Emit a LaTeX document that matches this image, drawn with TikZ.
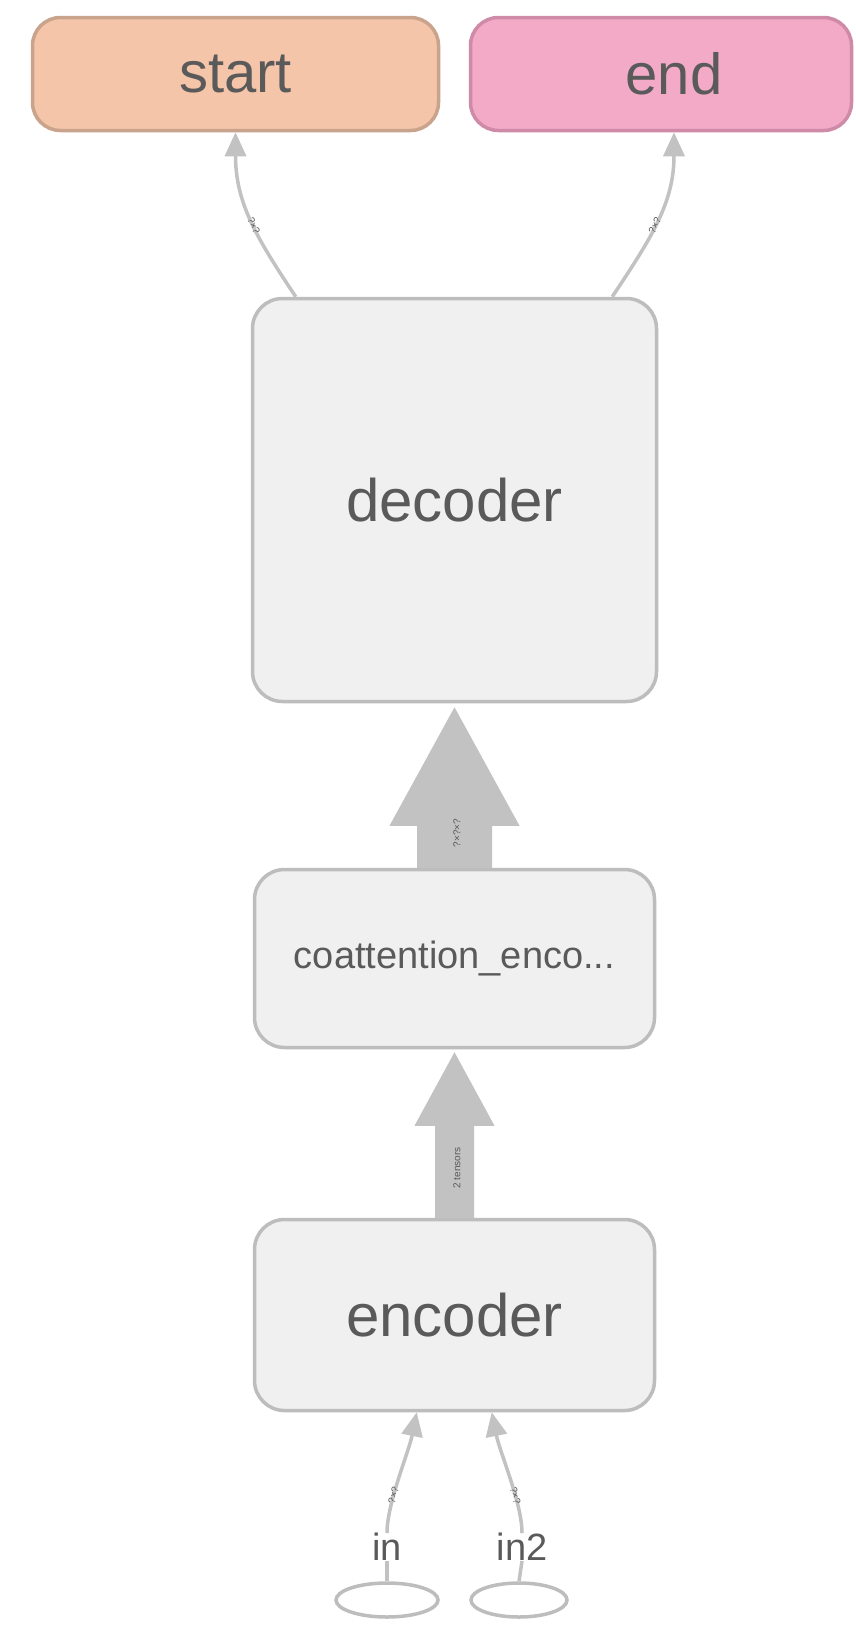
\documentclass[tikz,border=0pt]{standalone}
\usepackage{fontspec}
\setmainfont{Liberation Sans}
\usetikzlibrary{arrows.meta,shapes.geometric,calc}
\definecolor{boxfill}{HTML}{F0F0F0}
\definecolor{boxline}{HTML}{BDBDBD}
\definecolor{startfill}{HTML}{F4C5A9}
\definecolor{startline}{HTML}{C9A38C}
\definecolor{endfill}{HTML}{F2AAC7}
\definecolor{endline}{HTML}{CF8AA7}
\definecolor{edgegrey}{HTML}{C2C2C2}
\definecolor{txt}{HTML}{5A5A5A}
\begin{document}
\begin{tikzpicture}[x=1pt,y=-1pt,
  opbox/.style={draw=boxline, fill=boxfill, line width=3.5pt, rounded corners=30pt,
    text=txt, inner sep=0pt},
  bigtext/.style={font=\fontsize{60}{64}\selectfont},
  termbox/.style={line width=3.5pt, rounded corners=28pt, text=txt, inner sep=0pt,
    minimum height=113pt, font=\fontsize{58}{60}\selectfont},
  inellipse/.style={ellipse, draw=boxline, fill=white, line width=3.5pt, inner sep=0pt,
    minimum height=34pt},
  inlabel/.style={text=txt, inner sep=0pt, font=\fontsize{38}{40}\selectfont},
  thinedge/.style={draw=edgegrey, line width=3.5pt},
  thinarrow/.style={thinedge, -{Triangle[width=21pt,length=24pt]}},
  thickedge/.style={fill=edgegrey},
  elabel/.style={text=txt, inner sep=0pt, font=\fontsize{10}{10}\selectfont}
]
\useasboundingbox (0,0) rectangle (855,1625);
\fill[white] (0,0) rectangle (855,1625);

% nodes
\node[termbox, draw=startline, fill=startfill, minimum width=406pt] (start) at (235.5,74) {start};
\node[termbox, draw=endline, fill=endfill, minimum width=381pt] (end) at (661,74) {\hspace*{26pt}end};
\node[opbox, bigtext, minimum width=404pt, minimum height=403pt] (decoder) at (454.5,500) {decoder};
\node[opbox, font=\fontsize{38}{40}\selectfont, minimum width=400pt, minimum height=178pt] (coatt) at (454.5,958.5) {coattention\_enco...};
\node[opbox, bigtext, minimum width=400pt, minimum height=191pt] (enc) at (454.5,1315) {encoder};
\node[inellipse, minimum width=102pt] (inA) at (387,1600) {};
\node[inellipse, minimum width=96pt] (inB) at (519,1600) {};
\node[inlabel] (inlbl) at (387,1547) {in};
\node[inlabel] (inlblB) at (522,1547) {in2};

% thick edges
\fill[thickedge] ($(coatt.north)+(-37.5,0)$) -- ++(0,-42) -- ++(-27.5,0)
  -- ($(decoder.south)+(0,4)$) -- ($(coatt.north)+(65,-42)$) -- ++(-27.5,0)
  -- ($(coatt.north)+(37.5,0)$) -- cycle;
\node[elabel, rotate=90] (l1) at (457,833) {?×?×?};
\fill[thickedge] ($(enc.north)+(-19.5,0)$) -- ++(0,-92) -- ++(-20.5,0)
  -- ($(coatt.south)+(0,3)$) -- ($(enc.north)+(40,-92)$) -- ++(-20.5,0)
  -- ($(enc.north)+(19.5,0)$) -- cycle;
\node[elabel, rotate=90] (l2) at (457,1168) {2 tensors};

% thin edges
\draw[thinarrow] ($(decoder.north west)+(45,0)$) .. controls +(-40,-60) and +(0,70) .. (start.south)
  node[elabel, sloped, pos=0.45] {?×?};
\draw[thinarrow] ($(decoder.north east)+(-46,0)$) .. controls +(40,-60) and +(0,70) .. ($(end.south)+(13,0)$)
  node[elabel, sloped, pos=0.45] {?×?};
\draw[thinedge] (inA.north) -- (inlbl.south);
\draw[thinarrow] (inlbl.north) .. controls +(0,-30) and +(-8,40) .. ($(enc.south west)+(164,0)$)
  node[elabel, sloped, pos=0.35] {?×?};
\draw[thinedge] (inB.north) -- (inlblB.south);
\draw[thinarrow] (inlblB.north) .. controls +(0,-30) and +(8,40) .. ($(enc.south west)+(239,0)$)
  node[elabel, sloped, pos=0.35] {?×?};
\end{tikzpicture}
\end{document}
